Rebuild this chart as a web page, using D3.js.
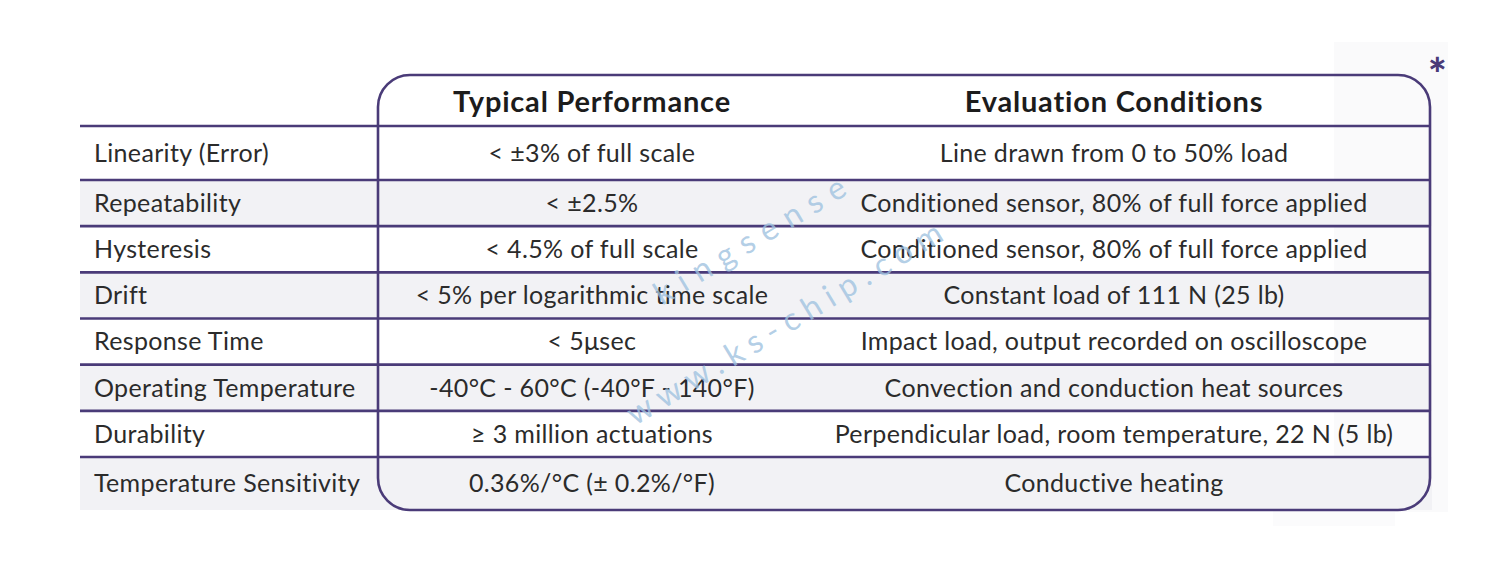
<!DOCTYPE html>
<html>
<head>
<meta charset="utf-8">
<script src="https://cdn.jsdelivr.net/npm/d3@7"></script>
<style>
  html, body { margin: 0; padding: 0; background: #fff; }
  svg { display: block; }
  text { font-family: Lato, "Open Sans", sans-serif; }
</style>
</head>
<body>
<div id="chart"></div>
<script>
// ---------------------------------------------------------------
// Table content
// ---------------------------------------------------------------
var headers = ['', 'Typical Performance', 'Evaluation Conditions'];

var parameters = [
  'Linearity (Error)', 'Repeatability', 'Hysteresis', 'Drift',
  'Response Time', 'Operating Temperature', 'Durability', 'Temperature Sensitivity'
];

var typical = [
  '< \u00b13% of full scale', '< \u00b12.5%', '< 4.5% of full scale',
  '< 5% per logarithmic time scale', '< 5\u03bcsec',
  '-40\u00b0C - 60\u00b0C (-40\u00b0F - 140\u00b0F)', '\u2265 3 million actuations',
  '0.36%/\u00b0C (\u00b1 0.2%/\u00b0F)'
];

var conditions = [
  'Line drawn from 0 to 50% load',
  'Conditioned sensor, 80% of full force applied',
  'Conditioned sensor, 80% of full force applied',
  'Constant load of 111 N (25 lb)',
  'Impact load, output recorded on oscilloscope',
  'Convection and conduction heat sources',
  'Perpendicular load, room temperature, 22 N (5 lb)',
  'Conductive heating'
];

var W = 1500, H = 583;
var PURPLE = '#4a3b78';
var left = 80, boxL = 378, boxR = 1430, boxT = 75, headB = 126, boxB = 510;
var R = 32;

var svg = d3.select('#chart').append('svg')
  .attr('width', W).attr('height', H)
  .attr('viewBox', '0 0 ' + W + ' ' + H);

svg.append('rect').attr('width', W).attr('height', H).attr('fill', '#fff');

// faint scanned-page panel behind the right edge
svg.append('rect')
  .attr('x', 1334).attr('y', 42).attr('width', 114).attr('height', 470)
  .attr('fill', '#fafafb');
svg.append('rect')
  .attr('x', 1273).attr('y', 508).attr('width', 122).attr('height', 18)
  .attr('fill', '#fbfbfc');

// row boundaries: inner rows share a linear scale, first/last are header/box edges
var inner = d3.scaleLinear().domain([1, 7]).range([180, 457]);
var rows = parameters.map(function (p, i) {
  return {
    i: i,
    y0: i === 0 ? headB : inner(i),
    y1: i === parameters.length - 1 ? boxB : inner(i + 1),
    cells: [p, typical[i], conditions[i]]
  };
});

// column layout
var x = d3.scaleOrdinal().domain([0, 1, 2]).range([94, 592, 1114]);
var anchor = ['start', 'middle', 'middle'];

// alternating row shading
svg.append('g').selectAll('rect')
  .data(rows.filter(function (r) { return r.i % 2 === 1; }))
  .join('rect')
  .attr('x', left).attr('y', function (d) { return d.y0; })
  .attr('width', boxR + 2 - left)
  .attr('height', function (d) { return d.y1 - d.y0; })
  .attr('fill', '#f2f2f5');

// horizontal rules
var rules = [headB].concat(rows.slice(1).map(function (r) { return r.y0; }));
svg.append('g').selectAll('line')
  .data(rules)
  .join('line')
  .attr('x1', left).attr('x2', boxR)
  .attr('y1', function (d) { return d; }).attr('y2', function (d) { return d; })
  .attr('stroke', PURPLE).attr('stroke-width', 2.6);

// rounded box
svg.append('rect')
  .attr('x', boxL).attr('y', boxT)
  .attr('width', boxR - boxL).attr('height', boxB - boxT)
  .attr('rx', R).attr('ry', R)
  .attr('fill', 'none')
  .attr('stroke', PURPLE).attr('stroke-width', 2.6);

// header text
svg.append('g').selectAll('text')
  .data([1, 2])
  .join('text')
  .attr('x', function (d) { return x(d); })
  .attr('y', 102)
  .attr('dy', '0.35em')
  .attr('text-anchor', 'middle')
  .attr('font-size', 29)
  .attr('letter-spacing', 0.8)
  .attr('font-weight', 700)
  .attr('fill', '#1c1c1c')
  .text(function (d) { return headers[d]; });

// body cells
var rowG = svg.append('g').selectAll('g')
  .data(rows)
  .join('g');

rowG.selectAll('text')
  .data(function (r) {
    return r.cells.map(function (c, j) { return { text: c, col: j, y: (r.y0 + r.y1) / 2 }; });
  })
  .join('text')
  .attr('x', function (d) { return x(d.col); })
  .attr('y', function (d) { return d.y; })
  .attr('dy', '0.35em')
  .attr('text-anchor', function (d) { return anchor[d.col]; })
  .attr('font-size', 25)
  .attr('letter-spacing', 0.35)
  .attr('fill', '#2b2b2b')
  .text(function (d) { return d.text; });

// asterisk mark
svg.append('text')
  .attr('x', 1428).attr('y', 90)
  .attr('font-size', 44).attr('font-weight', 900)
  .attr('fill', PURPLE)
  .text('*');

// watermark
var wm = svg.append('g').attr('fill', '#9fc2e0').attr('fill-opacity', 0.8)
  .attr('font-size', 32);
wm.append('text')
  .attr('transform', 'translate(662,306) rotate(-31)')
  .attr('letter-spacing', 10)
  .text('kingsense');
wm.append('text')
  .attr('transform', 'translate(635,426) rotate(-31)')
  .attr('letter-spacing', 8)
  .text('www.ks-chip.com');
</script>
</body>
</html>
